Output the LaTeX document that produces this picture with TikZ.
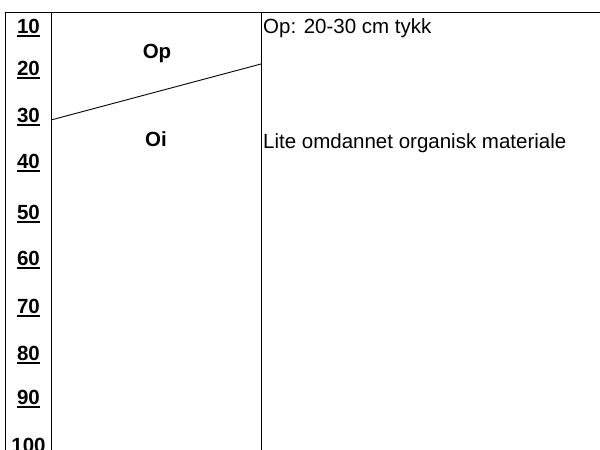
\documentclass[tikz,border=0pt]{standalone}
\usepackage{fontspec}
\setmainfont{Liberation Sans}
\newcommand\ulnum[1]{\setbox0\hbox{#1}\rlap{\rule[-4.3pt]{\wd0}{2.6pt}}\box0}
\begin{document}
\begin{tikzpicture}[x=1pt,y=-1pt,
  depth/.style={anchor=base,inner sep=0pt,font=\fontsize{20.5}{24}\selectfont\bfseries},
  layer/.style={anchor=base,inner sep=0pt,font=\fontsize{20.5}{24}\selectfont\bfseries},
  desc/.style={anchor=base west,inner sep=0pt,font=\fontsize{20.5}{24}\selectfont},
  rule/.style={line width=1pt}]
\useasboundingbox (0,0) rectangle (600,450);
% frame coordinates
\coordinate (tl) at (5,12);
\coordinate (bl) at (5,452);
\coordinate (c1t) at (51,12);
\coordinate (c1b) at (51,452);
\coordinate (c2t) at (261,12);
\coordinate (c2b) at (261,452);
\coordinate (tr) at (600,12);
\coordinate (sl) at (51,120);
\coordinate (sr) at (261,64);
\draw[rule] (tl) -- (tr);
\draw[rule] (tl) -- (bl);
\draw[rule] (c1t) -- (c1b);
\draw[rule] (c2t) -- (c2b);
\draw[line width=0.9pt] (sl) -- (sr);
% depth labels
\node[depth] (d10) at (28.5,33) {\ulnum{10}};
\node[depth] (d20) at (28.5,75) {\ulnum{20}};
\node[depth] (d30) at (28.5,122) {\ulnum{30}};
\node[depth] (d40) at (28.5,168) {\ulnum{40}};
\node[depth] (d50) at (28.5,219) {\ulnum{50}};
\node[depth] (d60) at (28.5,265) {\ulnum{60}};
\node[depth] (d70) at (28.5,313) {\ulnum{70}};
\node[depth] (d80) at (28.5,360) {\ulnum{80}};
\node[depth] (d90) at (28.5,404) {\ulnum{90}};
\node[depth] (d100) at (28.5,452) {100};
% layers
\node[layer] (op) at (157,58) {Op};
\node[layer] (oi) at (156,146) {Oi};
% descriptions
\node[desc] (dop) at (263,33) {Op: 20-30 cm tykk};
\node[desc] (doi) at (263,148) {Lite omdannet organisk materiale};
\end{tikzpicture}
\end{document}
